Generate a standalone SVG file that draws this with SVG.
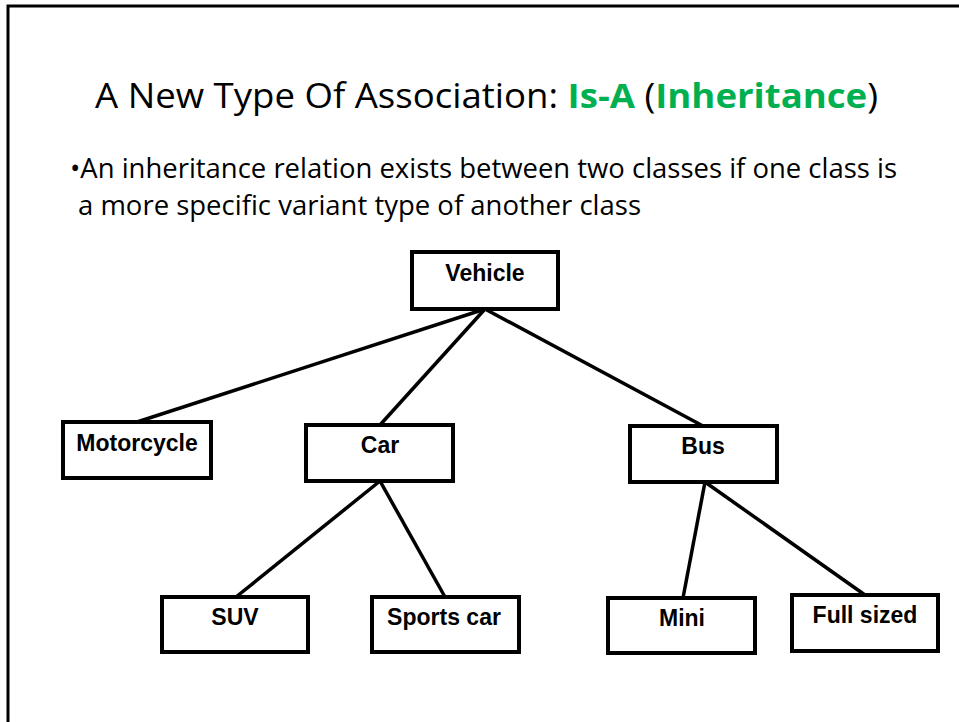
<svg xmlns="http://www.w3.org/2000/svg" width="959" height="722" viewBox="0 0 959 722">
<style>
.box{fill:#fff;stroke:#000;stroke-width:4}
.lbl{font-family:"Liberation Sans",Arial,sans-serif;font-weight:bold;font-size:23px;fill:#000;text-anchor:middle}
.conn line{stroke:#000;stroke-width:3.5}
.title{font-family:"Open Sans","Noto Sans",sans-serif;font-size:34px;fill:#000}
.body{font-family:"Open Sans","Noto Sans",sans-serif;font-size:28px;fill:#000}
.g{fill:#00B050;font-weight:bold}
</style>
<rect x="8" y="6" width="960" height="730" fill="#fff" stroke="#000" stroke-width="3"/>
<text class="title" x="95" y="108" textLength="783" lengthAdjust="spacingAndGlyphs">A New Type Of Association: <tspan class="g">Is-A</tspan> (<tspan class="g">Inheritance</tspan>)</text>
<text class="body" x="70" y="178" textLength="827" lengthAdjust="spacingAndGlyphs">•An inheritance relation exists between two classes if one class is</text>
<text class="body" x="78" y="215" textLength="563" lengthAdjust="spacingAndGlyphs">a more specific variant type of another class</text>
<g class="conn">
<line x1="485" y1="309" x2="137" y2="422"/>
<line x1="485" y1="309" x2="380" y2="425"/>
<line x1="485" y1="309" x2="703" y2="426"/>
<line x1="380" y1="481" x2="236" y2="597"/>
<line x1="380" y1="481" x2="445" y2="597"/>
<line x1="705" y1="482" x2="683" y2="598"/>
<line x1="705" y1="482" x2="865" y2="595"/>
</g>
<g id="vehicle"><rect class="box" x="412" y="252" width="146" height="57"/><text class="lbl" x="485" y="281">Vehicle</text></g>
<g id="motorcycle"><rect class="box" x="63" y="422" width="148" height="56"/><text class="lbl" x="137" y="451">Motorcycle</text></g>
<g id="car"><rect class="box" x="306" y="425" width="147" height="56"/><text class="lbl" x="380" y="453">Car</text></g>
<g id="bus"><rect class="box" x="630" y="426" width="147" height="56"/><text class="lbl" x="703" y="454">Bus</text></g>
<g id="suv"><rect class="box" x="162" y="597" width="146" height="55"/><text class="lbl" x="235" y="625">SUV</text></g>
<g id="sportscar"><rect class="box" x="372" y="597" width="147" height="55"/><text class="lbl" x="444" y="625">Sports car</text></g>
<g id="mini"><rect class="box" x="608" y="598" width="147" height="55"/><text class="lbl" x="682" y="626">Mini</text></g>
<g id="fullsized"><rect class="box" x="792" y="595" width="146" height="56"/><text class="lbl" x="865" y="623">Full sized</text></g>
</svg>
